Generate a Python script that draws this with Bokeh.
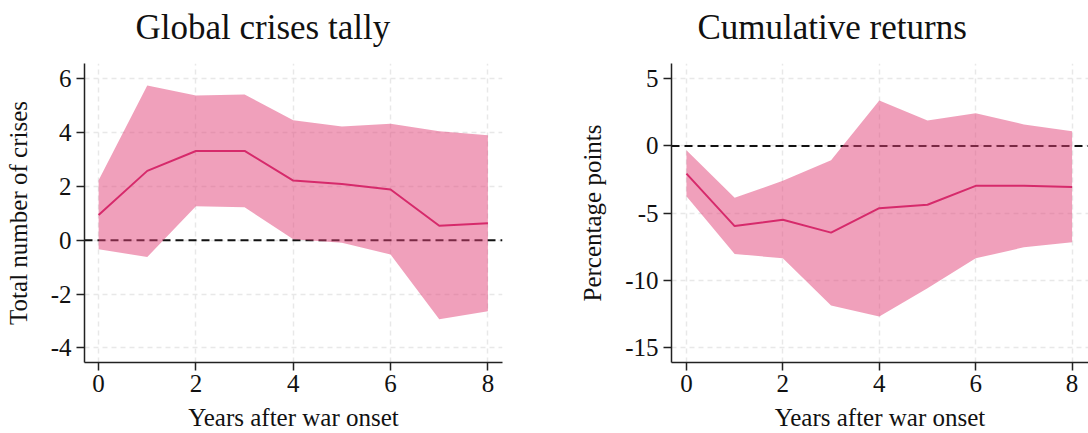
from bokeh.plotting import figure
from bokeh.layouts import row
from bokeh.models import Range1d, FixedTicker, Title
from bokeh.embed import file_html
from bokeh.resources import INLINE

# ---- data ----
years = [0, 1, 2, 3, 4, 5, 6, 7, 8]

crises_mean = [0.94, 2.58, 3.32, 3.32, 2.22, 2.09, 1.89, 0.54, 0.63]
crises_upper = [2.23, 5.75, 5.38, 5.42, 4.46, 4.23, 4.33, 4.05, 3.90]
crises_lower = [-0.33, -0.62, 1.27, 1.23, 0.04, -0.09, -0.53, -2.93, -2.64]

returns_mean = [-2.05, -5.95, -5.48, -6.44, -4.62, -4.37, -2.96, -2.96, -3.04]
returns_upper = [-0.32, -3.85, -2.59, -1.06, 3.38, 1.90, 2.44, 1.60, 1.09]
returns_lower = [-3.73, -8.02, -8.35, -11.85, -12.67, -10.57, -8.35, -7.53, -7.16]

x_ticks = [0, 2, 4, 6, 8]
crises_ticks = [-4, -2, 0, 2, 4, 6]
returns_ticks = [-15, -10, -5, 0, 5]

titles = ["Global crises tally", "Cumulative returns"]
y_labels = ["Total number of crises", "Percentage points"]
x_label = "Years after war onset"

FONT = "Liberation Serif"
BAND = "#E14177"
LINE = "#D62A6B"
GRID = "#E8E8E8"


def make_panel(title, ylab, mean, lower, upper, yticks, xr, yr, width,
               bl, br, title_offset):
    p = figure(width=width, height=433, output_backend="svg",
               toolbar_location=None, x_range=Range1d(*xr),
               y_range=Range1d(*yr), min_border_left=bl,
               min_border_right=br, min_border_top=63, min_border_bottom=70)
    p.outline_line_color = None
    p.background_fill_color = "white"
    p.border_fill_color = "white"

    spacer = Title(text=" ", text_font=FONT, text_font_size="9px",
                   standoff=0)
    p.add_layout(spacer, "above")
    t = Title(text=title, text_font=FONT, text_font_size="35px",
              text_font_style="normal", text_color="#111111",
              align="left", offset=title_offset)
    p.add_layout(t, "above")

    p.line(x=[xr[0], xr[1]], y=[0, 0], line_color="#111111",
           line_width=2, line_dash="8 5")
    p.varea(x=years, y1=lower, y2=upper, fill_color=BAND, fill_alpha=0.5)
    p.line(years, mean, line_color=LINE, line_width=2)

    for ax in (p.xaxis[0], p.yaxis[0]):
        ax.axis_line_color = "#222222"
        ax.axis_line_width = 1.5
        ax.major_tick_line_color = "#222222"
        ax.major_tick_line_width = 1.5
        ax.major_tick_out = 8
        ax.major_tick_in = 0
        ax.minor_tick_line_color = None
        ax.major_label_text_font = FONT
        ax.major_label_text_font_size = "25px"
        ax.major_label_text_color = "#111111"
        ax.axis_label_text_font = FONT
        ax.axis_label_text_font_size = "25px"
        ax.axis_label_text_font_style = "normal"
        ax.axis_label_text_color = "#111111"

    p.xaxis.ticker = FixedTicker(ticks=x_ticks)
    p.yaxis.ticker = FixedTicker(ticks=yticks)
    p.xaxis.major_label_overrides = {v: str(v) for v in x_ticks}
    p.yaxis.major_label_overrides = {v: str(v) for v in yticks}
    p.yaxis.major_label_orientation = "horizontal"
    p.xaxis.axis_label = x_label
    p.yaxis.axis_label = ylab
    p.xaxis.major_label_standoff = 4
    p.yaxis.major_label_standoff = 5
    p.xaxis.axis_label_standoff = 9
    p.yaxis.axis_label_standoff = 16

    for g in (p.xgrid[0], p.ygrid[0]):
        g.grid_line_color = GRID
        g.grid_line_width = 1.5
        g.grid_line_dash = "5 4"
    return p


p1 = make_panel(titles[0], y_labels[0], crises_mean, crises_lower,
                crises_upper, crises_ticks, (-0.29, 8.3), (-4.54, 6.57),
                560, 84, 58, 51)
p2 = make_panel(titles[1], y_labels[1], returns_mean, returns_lower,
                returns_upper, returns_ticks, (-0.31, 8.34), (-16.09, 6.13),
                528, 111, 0, 26)

layout = row(p1, p2)
open("out.html", "w").write(file_html(layout, INLINE))
